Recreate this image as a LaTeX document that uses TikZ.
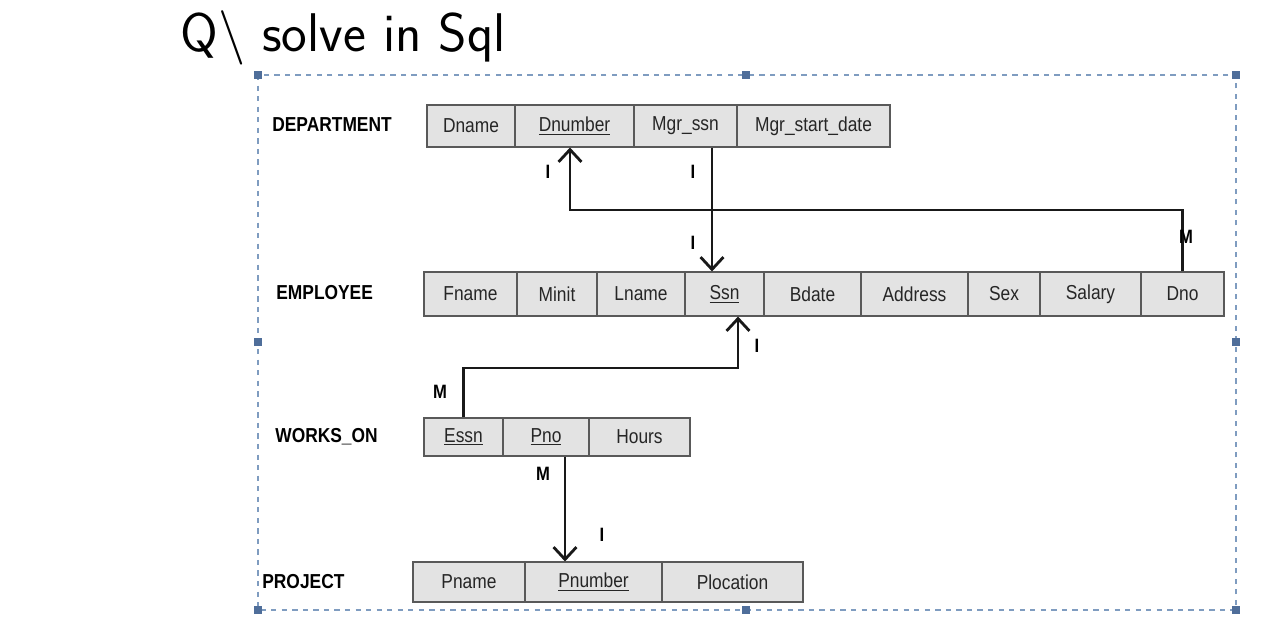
\documentclass[tikz,border=0pt]{standalone}
\usepackage{fontspec}
\setmainfont{Liberation Sans}[FakeStretch=0.86]
\usetikzlibrary{arrows.meta}
\definecolor{cellfill}{HTML}{E3E3E3}
\definecolor{selc}{HTML}{7F9CC0}
\definecolor{handle}{HTML}{4F6E9A}
\tikzset{
 cell/.style={draw=black!65,fill=cellfill,line width=0.6pt,inner sep=0pt,font=\fontsize{11.5}{12}\selectfont,text=black!85},
 tlabel/.style={font=\bfseries\fontsize{11.5}{12}\selectfont,anchor=west,inner sep=0pt},
 card/.style={font=\bfseries\fontsize{11}{12}\selectfont,inner sep=0pt},
 rel/.style={line width=1.6pt,black!90},
 arr/.style={rel,-{Straight Barb[length=7pt,width=13pt,line width=1.6pt]}},
 hdl/.style={fill=handle,minimum size=5pt,inner sep=0pt},
}
\newcommand{\cellat}[6]{\node[cell,minimum width=#4*0.02cm,minimum height=#5*0.02cm] (#1) at (#2,#3) {#6};}
\begin{document}
\begin{tikzpicture}[x=0.02cm,y=-0.02cm]
\useasboundingbox (0,0) rectangle (1280,634);
\node[font=\sffamily\fontsize{31}{34}\selectfont,anchor=west,inner sep=0pt] (title) at (180,38) {Q\textbackslash{} solve in Sql};
\draw[selc,dashed,line width=0.6pt] (258,75) rectangle (1236,610);
\foreach \p [count=\i] in {(258,75),(746,75),(1236,75),(258,342),(1236,342),(258,610),(746,610),(1236,610)}
  \node[hdl] (h\i) at \p {};
% DEPARTMENT
\node[tlabel] (ldep) at (272,125) {DEPARTMENT};
\cellat{dname}{471}{126}{88}{42}{Dname}
\cellat{dnumber}{574.5}{126}{119}{42}{\underline{Dnumber}}
\cellat{mgr}{685.5}{126}{103}{42}{Mgr\_ssn}
\cellat{mgrd}{813.5}{126}{153}{42}{Mgr\_start\_date}
% EMPLOYEE
\node[tlabel] (lemp) at (276,293) {EMPLOYEE};
\cellat{fname}{470.5}{294}{93}{44}{Fname}
\cellat{minit}{557}{294}{80}{44}{Minit}
\cellat{lname}{641}{294}{88}{44}{Lname}
\cellat{ssn}{724.5}{294}{79}{44}{\underline{Ssn}}
\cellat{bdate}{812.5}{294}{97}{44}{Bdate}
\cellat{address}{914.5}{294}{107}{44}{Address}
\cellat{sex}{1004}{294}{72}{44}{Sex}
\cellat{salary}{1090.5}{294}{101}{44}{Salary}
\cellat{dno}{1182.5}{294}{83}{44}{Dno}
% WORKS_ON
\node[tlabel] (lwo) at (275,437) {WORKS\_ON};
\cellat{essn}{463.5}{437}{79}{38}{\underline{Essn}}
\cellat{pno}{546}{437}{86}{38}{\underline{Pno}}
\cellat{hours}{639.5}{437}{101}{38}{Hours}
% PROJECT
\node[tlabel] (lproj) at (262,582) {PROJECT};
\cellat{pname}{469}{582}{112}{40}{Pname}
\cellat{pnumber}{593.5}{582}{137}{40}{\underline{Pnumber}}
\cellat{ploc}{732.5}{582}{141}{40}{Plocation}
% connectors
\coordinate (c1) at (570,210);
\coordinate (x2) at (712,0);
\coordinate (x3) at (738,368);
\coordinate (x4) at (565,0);
\draw[arr] (dno.north) |- (c1) -- (c1 |- dnumber.south);
\draw[arr] (mgr.south -| x2) -- (ssn.north -| x2);
\draw[arr] (essn.north) |- (x3) -- (x3 |- ssn.south);
\draw[arr] (pno.south -| x4) -- (pnumber.north -| x4);
% cardinalities
\node[card] (k1) at (1186,237) {M};
\node[card] (k2) at (548,172) {I};
\node[card] (k3) at (693,172) {I};
\node[card] (k4) at (693,243) {I};
\node[card] (k5) at (440,392) {M};
\node[card] (k6) at (757,346) {I};
\node[card] (k7) at (543,474) {M};
\node[card] (k8) at (602,535) {I};
\end{tikzpicture}
\end{document}
